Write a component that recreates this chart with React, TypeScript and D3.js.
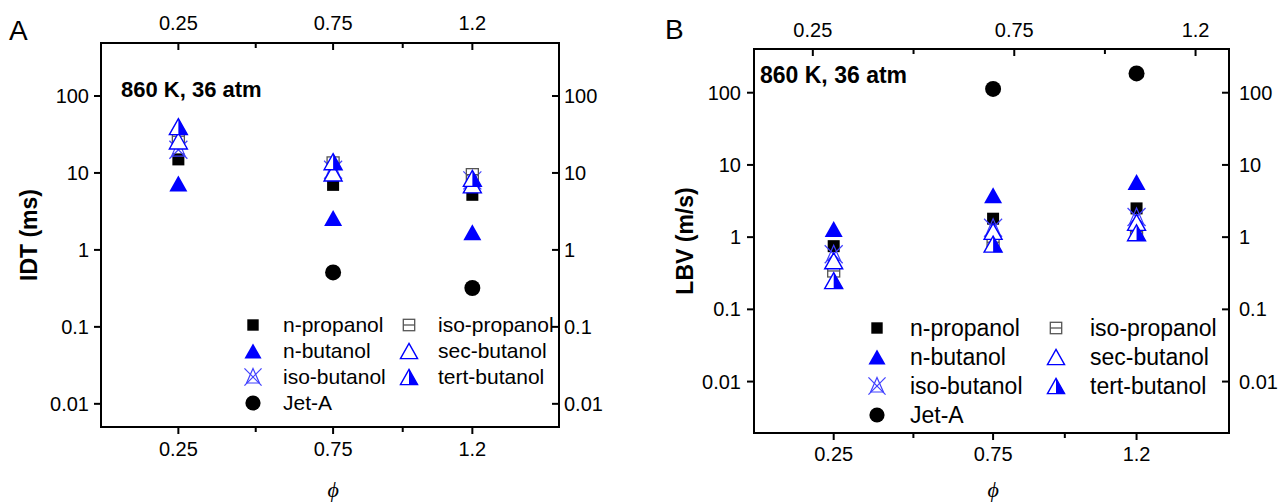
import React from "react";
import * as d3 from "d3";

// ---------- data ----------
const phiValues = [0.25, 0.75, 1.2];
const phiLabels = ["0.25", "0.75", "1.2"];
const phiMinor = [0.5, 0.975];
const yTickValues = [0.01, 0.1, 1, 10, 100];
const yTickLabels = ["0.01", "0.1", "1", "10", "100"];

const seriesNames = ["n-propanol", "n-butanol", "iso-butanol", "Jet-A", "iso-propanol", "sec-butanol", "tert-butanol"];
const seriesMarkers = ["sqFilled", "triFilled", "isoBut", "circle", "isoProp", "triOpen", "triHalf"];

// IDT (ms)
const idtNPropanol = [15, 7, 5.2];
const idtNButanol = [7.3, 2.6, 1.7];
const idtIsoButanol = [20, 11, 8];
const idtJetA = [null, 0.51, 0.32];
const idtIsoPropanol = [30, 13.5, 9.5];
const idtSecButanol = [26, 10, 7];
const idtTertButanol = [40, 14, 8.5];

// LBV (m/s)
const lbvNPropanol = [0.75, 1.8, 2.5];
const lbvNButanol = [1.3, 3.8, 5.8];
const lbvIsoButanol = [0.58, 1.35, 1.9];
const lbvJetA = [null, 113, 185];
const lbvIsoPropanol = [0.34, 0.85, 1.2];
const lbvSecButanol = [0.47, 1.2, 1.6];
const lbvTertButanol = [0.25, 0.8, 1.15];

const idtSeries = [idtNPropanol, idtNButanol, idtIsoButanol, idtJetA, idtIsoPropanol, idtSecButanol, idtTertButanol];
const lbvSeries = [lbvNPropanol, lbvNButanol, lbvIsoButanol, lbvJetA, lbvIsoPropanol, lbvSecButanol, lbvTertButanol];

const FONT = "'Liberation Sans', Arial, sans-serif";
const BLUE = "#0000ff";

function Marker({ type, x, y, s = 1 }: { type: string; x: number; y: number; s?: number }) {
  const w = 18 * s, h = 16 * s;
  const tri = `M${x},${y - h / 2}L${x + w / 2},${y + h / 2}L${x - w / 2},${y + h / 2}Z`;
  switch (type) {
    case "sqFilled": {
      const a = 12 * s;
      return <rect x={x - a / 2} y={y - a / 2} width={a} height={a} fill="#000" />;
    }
    case "triFilled":
      return <path d={tri} fill={BLUE} />;
    case "circle":
      return <circle cx={x} cy={y} r={8 * s} fill="#000" />;
    case "isoProp": {
      const a = 12 * s;
      return (
        <g fill="none" stroke="#555" strokeWidth={1.3}>
          <rect x={x - a / 2} y={y - a / 2} width={a} height={a} />
          <line x1={x - a / 2} x2={x + a / 2} y1={y} y2={y} />
        </g>
      );
    }
    case "triOpen":
      return <path d={tri} fill="#fff" stroke={BLUE} strokeWidth={1.4} />;
    case "triHalf":
      return (
        <g>
          <path d={tri} fill="#fff" stroke={BLUE} strokeWidth={1.4} />
          <path d={`M${x},${y - h / 2}L${x + w / 2},${y + h / 2}L${x},${y + h / 2}Z`} fill={BLUE} />
        </g>
      );
    case "isoBut": {
      const a = 9 * s;
      return (
        <g fill="none" stroke="#4040ff" strokeWidth={1.2}>
          <path d={`M${x},${y - a}L${x + a * 0.75},${y + a * 0.7}L${x - a * 0.75},${y + a * 0.7}Z`} />
          <line x1={x - a} y1={y - a} x2={x + a} y2={y + a} />
          <line x1={x + a} y1={y - a} x2={x - a} y2={y + a} />
        </g>
      );
    }
  }
  return null;
}

type PanelCfg = {
  letter: string; lx: number; ly: number;
  x0: number; x1: number; y0: number; y1: number;
  xDomain: [number, number]; topDomain: [number, number]; yDomain: [number, number];
  yTitle: string; ytx: number; yty: number; titleSize: number;
  annX: number; annY: number; annSize: number;
  leftGap: number; rightGap: number; bottomBase: number; topBase: number;
  legCols: number[]; legTextCols: number[]; legRow0: number; legDy: number; legSize: number;
  data: (number | null)[][];
};

const panels: PanelCfg[] = [
  {
    letter: "A", lx: 9, ly: 40,
    x0: 101, x1: 559, y0: 43, y1: 427,
    xDomain: [0, 1.48], topDomain: [0, 1.48], yDomain: [0.005, 488],
    yTitle: "IDT (ms)", ytx: 29, yty: 235, titleSize: 23,
    annX: 121, annY: 97, annSize: 22,
    leftGap: 12, rightGap: 5, bottomBase: 456, topBase: 30,
    legCols: [253, 409], legTextCols: [283, 438], legRow0: 325, legDy: 26, legSize: 21,
    data: idtSeries,
  },
  {
    letter: "B", lx: 665, ly: 39,
    x0: 754, x1: 1229, y0: 49, y1: 433,
    xDomain: [0, 1.49], topDomain: [0.104, 1.283], yDomain: [0.00194, 403],
    yTitle: "LBV (m/s)", ytx: 685, yty: 241, titleSize: 23,
    annX: 760, annY: 83, annSize: 23,
    leftGap: 13, rightGap: 10, bottomBase: 461, topBase: 37,
    legCols: [877, 1056], legTextCols: [910, 1090], legRow0: 328, legDy: 29, legSize: 23,
    data: lbvSeries,
  },
];

function Panel({ p }: { p: PanelCfg }) {
  const x = d3.scaleLinear().domain(p.xDomain).range([p.x0, p.x1]);
  const xt = d3.scaleLinear().domain(p.topDomain).range([p.x0, p.x1]);
  const y = d3.scaleLog().domain(p.yDomain).range([p.y1, p.y0]);
  const TL = 7, TM = 5;
  const ax = { stroke: "#000", strokeWidth: 2 };
  return (
    <g fontFamily={FONT}>
      <text x={p.lx} y={p.ly} fontSize={28}>{p.letter}</text>
      {/* ticks */}
      {phiValues.map((v, i) => (
        <g key={"b" + i}>
          <line x1={x(v)} x2={x(v)} y1={p.y1} y2={p.y1 + TL} {...ax} />
          <text x={x(v)} y={p.bottomBase} fontSize={20} textAnchor="middle">{phiLabels[i]}</text>
          <line x1={xt(v)} x2={xt(v)} y1={p.y0} y2={p.y0 + TL} {...ax} />
          <text x={xt(v)} y={p.topBase} fontSize={20} textAnchor="middle">{phiLabels[i]}</text>
        </g>
      ))}
      {phiMinor.map((v, i) => (
        <g key={"m" + i}>
          <line x1={x(v)} x2={x(v)} y1={p.y1} y2={p.y1 + TM} {...ax} />
          <line x1={xt(v)} x2={xt(v)} y1={p.y0} y2={p.y0 + TM} {...ax} />
        </g>
      ))}
      {yTickValues.map((v, i) => (
        <g key={"y" + i}>
          <line x1={p.x0 - TL} x2={p.x0} y1={y(v)} y2={y(v)} {...ax} />
          <text x={p.x0 - p.leftGap} y={y(v)} dy="0.35em" fontSize={20} textAnchor="end">{yTickLabels[i]}</text>
          <line x1={p.x1 - TL} x2={p.x1} y1={y(v)} y2={y(v)} {...ax} />
          <text x={p.x1 + p.rightGap} y={y(v)} dy="0.35em" fontSize={20} textAnchor="start">{yTickLabels[i]}</text>
        </g>
      ))}
      <rect x={p.x0} y={p.y0} width={p.x1 - p.x0} height={p.y1 - p.y0} fill="none" {...ax} />
      {/* titles */}
      <text transform={`translate(${p.ytx},${p.yty}) rotate(-90)`} textAnchor="middle" dy="0.35em"
        fontSize={p.titleSize} fontWeight="bold">{p.yTitle}</text>
      <text x={x(0.75)} y={497} textAnchor="middle"
        fontFamily="'Liberation Serif', 'DejaVu Serif', serif" fontStyle="italic" fontSize={22}>ϕ</text>
      <text x={p.annX} y={p.annY} fontSize={p.annSize} fontWeight="bold">860 K, 36 atm</text>
      {/* data */}
      {p.data.map((arr, si) =>
        arr.map((v, i) => (v == null ? null : (
          <Marker key={si + "-" + i} type={seriesMarkers[si]} x={x(phiValues[i])} y={y(v)} />
        )))
      )}
      {/* legend */}
      {seriesNames.map((name, si) => {
        const col = si < 4 ? 0 : 1;
        const row = si < 4 ? si : si - 4;
        const cy = p.legRow0 + row * p.legDy;
        return (
          <g key={"l" + si}>
            <Marker type={seriesMarkers[si]} x={p.legCols[col]} y={cy} s={0.95} />
            <text x={p.legTextCols[col]} y={cy} dy="0.35em" fontSize={p.legSize}>{name}</text>
          </g>
        );
      })}
    </g>
  );
}

export default function App() {
  return (
    <svg width={1281} height={502} style={{ position: "absolute", left: 0, top: 0, background: "#fff" }}>
      <rect width={1281} height={502} fill="#fff" />
      {panels.map((p) => <Panel key={p.letter} p={p} />)}
    </svg>
  );
}
